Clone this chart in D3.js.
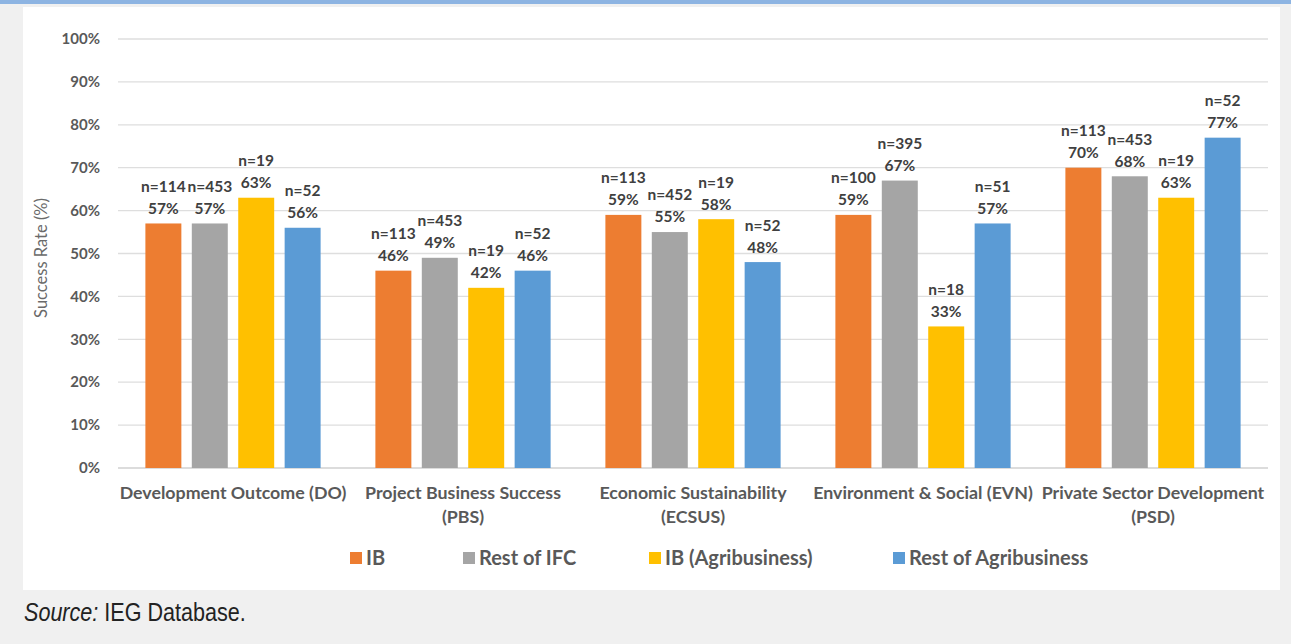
<!DOCTYPE html>
<html>
<head>
<meta charset="utf-8">
<script src="https://cdn.jsdelivr.net/npm/d3@7"></script>
<style>
  body { margin: 0; background: #f0f0f0; }
  svg text { font-family: Lato, "Open Sans", sans-serif; }
</style>
</head>
<body>
<script>
let categories = [
  ["Development Outcome (DO)"],
  ["Project Business Success", "(PBS)"],
  ["Economic Sustainability", "(ECSUS)"],
  ["Environment & Social (EVN)"],
  ["Private Sector Development", "(PSD)"]
]
let seriesNames = ["IB", "Rest of IFC", "IB (Agribusiness)", "Rest of Agribusiness"]
let colors = ["#ed7d31", "#a5a5a5", "#ffc000", "#5b9bd5"]
let ibValues = [57, 46, 59, 59, 70]
let restIfcValues = [57, 49, 55, 67, 68]
let ibAgriValues = [63, 42, 58, 33, 63]
let restAgriValues = [56, 46, 48, 57, 77]
let ibN = [114, 113, 113, 100, 113]
let restIfcN = [453, 453, 452, 395, 453]
let ibAgriN = [19, 19, 19, 18, 19]
let restAgriN = [52, 52, 52, 51, 52]
let yTicks = [0, 10, 20, 30, 40, 50, 60, 70, 80, 90, 100]

let values = [ibValues, restIfcValues, ibAgriValues, restAgriValues]
let counts = [ibN, restIfcN, ibAgriN, restAgriN]

let W = 1291, H = 644
let svg = d3.select("body").append("svg").attr("width", W).attr("height", H)

// page frame
svg.append("rect").attr("width", W).attr("height", H).attr("fill", "#f0f0f0")
svg.append("rect").attr("width", W).attr("height", 4).attr("fill", "#8db4e2")
svg.append("rect").attr("x", 23).attr("y", 7).attr("width", 1257).attr("height", 583).attr("fill", "#fff")

let mLeft = 118, mRight = 1268, mTop = 39, mBottom = 468
let x0 = d3.scaleBand().domain(d3.range(categories.length)).range([mLeft, mRight])
let x1 = d3.scaleBand().domain(d3.range(seriesNames.length)).range([0, x0.bandwidth()]).paddingInner(0.225).paddingOuter(0.59)
let y = d3.scaleLinear().domain([0, 100]).range([mBottom, mTop])

// gridlines + tick labels
let yAxis = svg.append("g")
yAxis.selectAll("line").data(yTicks).join("line")
  .attr("x1", mLeft).attr("x2", mRight)
  .attr("y1", d => y(d)).attr("y2", d => y(d))
  .attr("stroke", d => d == 0 ? "#d0d0d0" : "#dedede").attr("stroke-width", 1.3)
yAxis.selectAll("text").data(yTicks).join("text")
  .attr("x", 100).attr("y", d => y(d)).attr("dy", "0.35em")
  .attr("text-anchor", "end").attr("font-size", 15).attr("font-weight", "bold").attr("fill", "#595959")
  .text(d => d + "%")

svg.append("text")
  .attr("transform", "translate(47,258) rotate(-90)")
  .attr("text-anchor", "middle").attr("font-size", 16.5).attr("fill", "#6a6a6a")
  .text("Success Rate (%)")

// bars
let groups = svg.append("g").selectAll("g").data(categories).join("g")
  .attr("transform", (d, i) => "translate(" + x0(i) + ",0)")

groups.each(function(c, ci) {
  let g = d3.select(this)
  seriesNames.forEach((s, si) => {
    let v = values[si][ci]
    let bx = x1(si)
    g.append("rect")
      .attr("x", bx).attr("y", y(v))
      .attr("width", x1.bandwidth()).attr("height", y(0) - y(v))
      .attr("fill", colors[si])
    g.append("text")
      .attr("x", bx + x1.bandwidth() / 2).attr("y", y(v) - 15).attr("dy", "0.35em")
      .attr("text-anchor", "middle").attr("font-size", 15.5).attr("font-weight", "bold").attr("fill", "#404040")
      .text(v + "%")
    g.append("text")
      .attr("x", bx + x1.bandwidth() / 2).attr("y", y(v) - 37).attr("dy", "0.35em")
      .attr("text-anchor", "middle").attr("font-size", 15.5).attr("font-weight", "bold").attr("fill", "#404040")
      .text("n=" + counts[si][ci])
  })
  g.append("text")
    .attr("text-anchor", "middle").attr("font-size", 17.8).attr("font-weight", "bold").attr("fill", "#595959")
    .selectAll("tspan").data(c).join("tspan")
    .attr("x", x0.bandwidth() / 2).attr("y", (d, i) => 493 + i * 24).attr("dy", "0.35em")
    .text(d => d)
})

// legend
let legendX = [350, 463, 649, 893]
let legend = svg.append("g").selectAll("g").data(seriesNames).join("g")
  .attr("transform", (d, i) => "translate(" + legendX[i] + ",558)")
legend.append("rect").attr("x", 0).attr("y", -6).attr("width", 12).attr("height", 12)
  .attr("fill", (d, i) => colors[i])
legend.append("text").attr("x", 16).attr("dy", "0.35em")
  .attr("font-size", 20).attr("font-weight", "bold").attr("fill", "#595959")
  .text(d => d)

// source note (narrow face imitated with a horizontal squeeze)
let src = svg.append("text").attr("transform", "translate(24,612) scale(0.83,1)").attr("dy", "0.35em")
  .attr("font-size", 26).attr("fill", "#222")
  .style("font-family", "'Liberation Sans Narrow', 'Liberation Sans', Arial, sans-serif")
src.append("tspan").attr("font-style", "italic").text("Source:")
src.append("tspan").text(" IEG Database.")
</script>
</body>
</html>
